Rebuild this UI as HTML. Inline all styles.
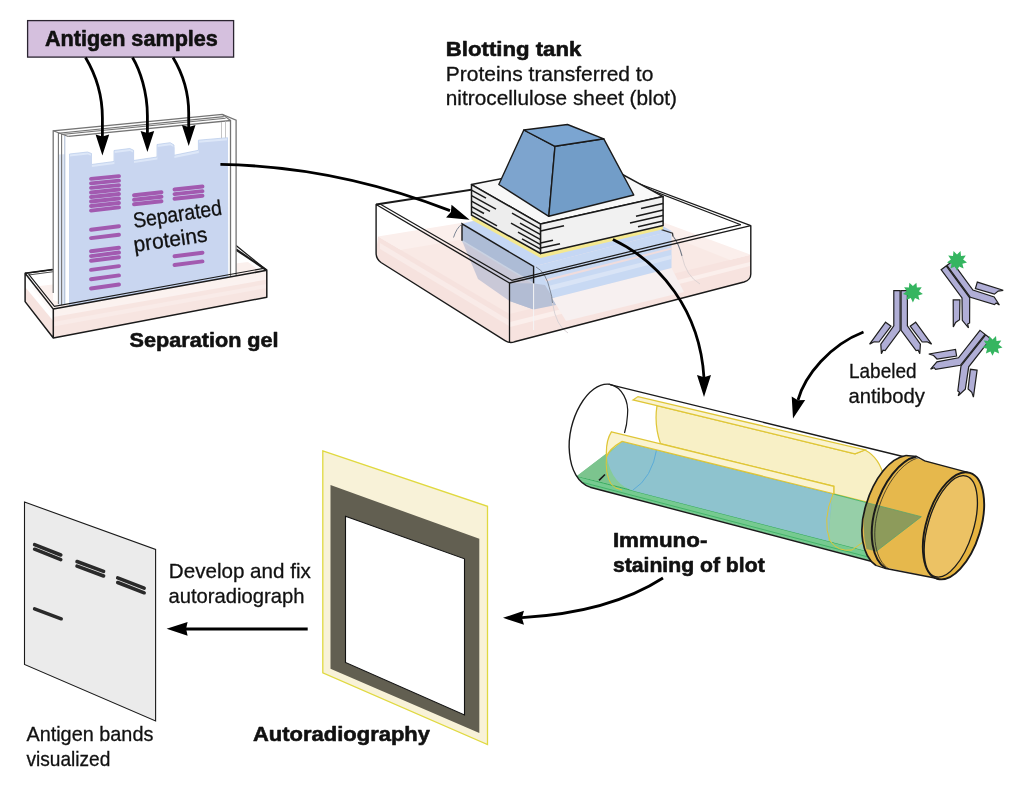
<!DOCTYPE html>
<html lang="en">
<head>
<meta charset="utf-8">
<title>Western blot</title>
<style>
html,body{margin:0;padding:0;background:#fff;}
svg{display:block;will-change:transform;}
text{font-family:"Liberation Sans",sans-serif;fill:#111;}
</style>
</head>
<body>
<svg width="1024" height="796" viewBox="0 0 1024 796">
<rect width="1024" height="796" fill="#ffffff"/>
<rect x="27.6" y="20.6" width="206" height="36.5" fill="#d5c0de" stroke="#2a2430" stroke-width="1.3"/>
<text x="44.9" y="45.7" font-size="22" font-weight="bold" stroke="#111" stroke-width="0.6" stroke-linejoin="round" textLength="173" lengthAdjust="spacingAndGlyphs">Antigen samples</text>
<polygon points="25.1,273.3 53.3,309.1 266.8,270.3 236,249.5 60,268.5" fill="#ffffff"/>
<polygon points="31,287 53.3,315 266.8,276 248,262" fill="#fbf0ed"/>
<path d="M25.1,273.3 L236,245.5 L266.8,270.3" fill="none" stroke="#1a1a1a" stroke-width="1.2"/>
<path d="M28.5,275 L235,247.7" fill="none" stroke="#1a1a1a" stroke-width="0.8"/>
<path d="M236,249.5 L266.8,270.3" fill="none" stroke="#1a1a1a" stroke-width="2.2"/>
<polygon points="53.2,300 53.2,130.8 222.3,114.4 236.1,120.1 236.1,276 69.7,306" fill="#ffffff"/>
<polygon points="58.4,154.5 69.5,154 69.5,305 58.4,305" fill="#dfe7f5"/>
<polygon points="64.8,137 69.5,137 69.5,305 64.8,305" fill="#ffffff"/>
<polygon points="69.5,306.2 69.5,154.0 87.5,152.0 91.5,153.5 91.5,164.5 114.0,161.5 114.0,150.5 129.8,148.5 133.6,150.3 133.6,160.5 157.0,157.0 157.0,144.5 170.2,142.7 174.0,145.0 174.0,155.3 198.4,150.3 198.4,140.2 227.5,137.7 227.8,277.4" fill="#dde7f8" stroke="#b5c9ea" stroke-width="0.7"/>
<polygon points="69.5,306.2 69.5,156.6 87.9,154.6 91.9,156.1 91.9,167.1 114.4,164.1 114.4,153.1 130.2,151.1 134.0,152.9 134.0,163.1 157.4,159.6 157.4,147.1 170.6,145.3 174.4,147.6 174.4,157.9 198.8,152.9 198.8,142.8 227.8,140.3 227.8,277.4" fill="#c9d6f0"/>
<path d="M53.2,293 V130.8 L222.3,114.4 L236.1,120.1 V276" fill="none" stroke="#747474" stroke-width="1.3"/>
<path d="M58.4,304 V133.2 L223.8,116.6" fill="none" stroke="#747474" stroke-width="1.1"/>
<path d="M61.6,305 V134.4 L225.6,118.2" fill="none" stroke="#747474" stroke-width="1.1"/>
<path d="M64.8,305 V135.4" fill="none" stroke="#9fb0cc" stroke-width="0.9"/>
<path d="M68.3,136.4 L230.5,120.5 V277" fill="none" stroke="#747474" stroke-width="1.3"/>
<path d="M53.2,130.8 L68.3,136.4 M222.3,114.4 L230.5,120.5" fill="none" stroke="#747474" stroke-width="1.1"/>
<path d="M221.5,122 V138.2 M225.5,121.5 V137.8" fill="none" stroke="#c4c4c4" stroke-width="1"/>
<path d="M85.5,57.5 C93,70 102.4,92 102.4,118 V138.5" fill="none" stroke="#000" stroke-width="2.8"/>
<polygon points="102.4,155.5 95.6,134.5 102.4,136.6 109.2,134.5" fill="#000"/>
<path d="M132.5,57.5 C140,70 147.4,92 147.4,116 V135" fill="none" stroke="#000" stroke-width="2.8"/>
<polygon points="147.4,152.0 140.6,131.0 147.4,133.1 154.2,131.0" fill="#000"/>
<path d="M173,57.5 C180.5,70 188.7,90 188.7,113 V129" fill="none" stroke="#000" stroke-width="2.8"/>
<polygon points="188.7,146.0 181.9,125.0 188.7,127.1 195.5,125.0" fill="#000"/>
<line x1="91.0" y1="178.9" x2="119.0" y2="176.1" stroke="#a25ab0" stroke-width="3.9" stroke-linecap="round"/>
<line x1="91.0" y1="183.4" x2="119.0" y2="180.6" stroke="#a25ab0" stroke-width="3.9" stroke-linecap="round"/>
<line x1="91.0" y1="187.9" x2="119.0" y2="185.1" stroke="#a25ab0" stroke-width="3.9" stroke-linecap="round"/>
<line x1="91.0" y1="192.5" x2="119.0" y2="189.5" stroke="#a25ab0" stroke-width="3.9" stroke-linecap="round"/>
<line x1="91.0" y1="197.0" x2="119.0" y2="194.0" stroke="#a25ab0" stroke-width="3.9" stroke-linecap="round"/>
<line x1="91.0" y1="201.5" x2="119.0" y2="198.5" stroke="#a25ab0" stroke-width="3.9" stroke-linecap="round"/>
<line x1="91.0" y1="206.0" x2="119.0" y2="203.0" stroke="#a25ab0" stroke-width="3.9" stroke-linecap="round"/>
<line x1="91.0" y1="210.6" x2="119.0" y2="207.4" stroke="#a25ab0" stroke-width="3.9" stroke-linecap="round"/>
<line x1="91.0" y1="229.7" x2="119.0" y2="226.3" stroke="#a25ab0" stroke-width="3.9" stroke-linecap="round"/>
<line x1="91.0" y1="238.1" x2="119.0" y2="234.7" stroke="#a25ab0" stroke-width="3.9" stroke-linecap="round"/>
<line x1="91.0" y1="251.3" x2="119.0" y2="247.7" stroke="#a25ab0" stroke-width="3.9" stroke-linecap="round"/>
<line x1="91.0" y1="256.1" x2="119.0" y2="252.5" stroke="#a25ab0" stroke-width="3.9" stroke-linecap="round"/>
<line x1="91.0" y1="260.8" x2="119.0" y2="257.2" stroke="#a25ab0" stroke-width="3.9" stroke-linecap="round"/>
<line x1="91.0" y1="269.9" x2="119.0" y2="266.1" stroke="#a25ab0" stroke-width="3.9" stroke-linecap="round"/>
<line x1="91.0" y1="279.2" x2="119.0" y2="275.4" stroke="#a25ab0" stroke-width="3.9" stroke-linecap="round"/>
<line x1="91.0" y1="288.5" x2="119.0" y2="284.5" stroke="#a25ab0" stroke-width="3.9" stroke-linecap="round"/>
<line x1="134.0" y1="195.3" x2="161.5" y2="192.3" stroke="#a25ab0" stroke-width="3.9" stroke-linecap="round"/>
<line x1="134.0" y1="199.8" x2="161.5" y2="196.8" stroke="#a25ab0" stroke-width="3.9" stroke-linecap="round"/>
<line x1="134.0" y1="204.3" x2="161.5" y2="201.3" stroke="#a25ab0" stroke-width="3.9" stroke-linecap="round"/>
<line x1="174.5" y1="189.5" x2="202.5" y2="186.5" stroke="#a25ab0" stroke-width="3.9" stroke-linecap="round"/>
<line x1="174.5" y1="194.1" x2="202.5" y2="191.1" stroke="#a25ab0" stroke-width="3.9" stroke-linecap="round"/>
<line x1="174.5" y1="198.8" x2="202.5" y2="195.8" stroke="#a25ab0" stroke-width="3.9" stroke-linecap="round"/>
<line x1="174.5" y1="256.3" x2="202.5" y2="252.7" stroke="#a25ab0" stroke-width="3.9" stroke-linecap="round"/>
<line x1="174.5" y1="265.0" x2="202.5" y2="261.4" stroke="#a25ab0" stroke-width="3.9" stroke-linecap="round"/>
<g transform="translate(134.2,228) rotate(-8.6)"><text x="0" y="0" font-size="21.5" stroke="#111" stroke-width="0.3" textLength="89.5" lengthAdjust="spacingAndGlyphs">Separated</text></g>
<g transform="translate(134.5,252) rotate(-8.2)"><text x="0" y="0" font-size="21.5" stroke="#111" stroke-width="0.3" textLength="74.5" lengthAdjust="spacingAndGlyphs">proteins</text></g>
<polygon points="53.3,309.1 266.8,270.3 266.8,297.3 53.3,338" fill="#fbf1ef" fill-opacity="0.95"/>
<polygon points="53.3,317 266.8,279.5 266.8,297.3 53.3,338" fill="#f7e5e1"/>
<polygon points="53.3,322 266.8,284 266.8,288 53.3,326.5" fill="#f9ebe8"/>
<polygon points="25.1,273.3 53.3,309.1 53.3,338 25.1,301.6" fill="#ffffff" fill-opacity="0.6"/>
<polygon points="25.1,287 53.3,321 53.3,338 25.1,301.6" fill="#f6e3df"/>
<path d="M25.1,273.3 L53.3,309.1 L266.8,270.3 V297.3 L53.3,338 L25.1,301.6 Z M53.3,309.1 V338" fill="none" stroke="#1a1a1a" stroke-width="1.5" stroke-linejoin="round"/>
<path d="M28.6,274.2 L54.4,306.4 L263.5,268.4" fill="none" stroke="#1a1a1a" stroke-width="1.1"/>
<path d="M25.1,273.3 L52.5,269.5" fill="none" stroke="#1a1a1a" stroke-width="1.6"/>
<text x="129.6" y="347" font-size="21" font-weight="bold" stroke="#111" stroke-width="0.6" stroke-linejoin="round" textLength="149" lengthAdjust="spacingAndGlyphs">Separation gel</text>
<text x="445.8" y="55.8" font-size="21" font-weight="bold" stroke="#111" stroke-width="0.6" stroke-linejoin="round" textLength="135.5" lengthAdjust="spacingAndGlyphs">Blotting tank</text>
<text x="445.8" y="80.7" font-size="21" stroke="#111" stroke-width="0.3" textLength="207.5" lengthAdjust="spacingAndGlyphs">Proteins transferred to</text>
<text x="445.8" y="105" font-size="21" stroke="#111" stroke-width="0.3" textLength="231.2" lengthAdjust="spacingAndGlyphs">nitrocellulose sheet (blot)</text>
<text x="849" y="377.6" font-size="21" stroke="#111" stroke-width="0.3" textLength="67.5" lengthAdjust="spacingAndGlyphs">Labeled</text>
<text x="848.5" y="402.8" font-size="21" stroke="#111" stroke-width="0.3" textLength="76.5" lengthAdjust="spacingAndGlyphs">antibody</text>
<text x="612.9" y="546.7" font-size="21" font-weight="bold" stroke="#111" stroke-width="0.6" stroke-linejoin="round" textLength="94.5" lengthAdjust="spacingAndGlyphs">Immuno-</text>
<text x="612.9" y="571.8" font-size="21" font-weight="bold" stroke="#111" stroke-width="0.6" stroke-linejoin="round" textLength="151.8" lengthAdjust="spacingAndGlyphs">staining of blot</text>
<text x="253" y="740.5" font-size="21" font-weight="bold" stroke="#111" stroke-width="0.6" stroke-linejoin="round" textLength="177" lengthAdjust="spacingAndGlyphs">Autoradiography</text>
<text x="168.8" y="577.8" font-size="21" stroke="#111" stroke-width="0.3" textLength="142" lengthAdjust="spacingAndGlyphs">Develop and fix</text>
<text x="168.4" y="603" font-size="21" stroke="#111" stroke-width="0.3" textLength="136" lengthAdjust="spacingAndGlyphs">autoradiograph</text>
<text x="26.4" y="741.3" font-size="21" stroke="#111" stroke-width="0.3" textLength="127" lengthAdjust="spacingAndGlyphs">Antigen bands</text>
<text x="26.4" y="765.8" font-size="21" stroke="#111" stroke-width="0.3" textLength="84" lengthAdjust="spacingAndGlyphs">visualized</text>
<polygon points="24.5,502 155.6,549.5 155.6,721 24.5,664.4" fill="#ebebeb" stroke="#1a1a1a" stroke-width="1.1"/>
<line x1="34.6" y1="544.6" x2="60.8" y2="555" stroke="#2a2a2a" stroke-width="3.5" stroke-linecap="round"/>
<line x1="34.6" y1="549.2" x2="60.8" y2="559.6" stroke="#2a2a2a" stroke-width="3.5" stroke-linecap="round"/>
<line x1="77" y1="561.5" x2="103.6" y2="571.4" stroke="#2a2a2a" stroke-width="3.5" stroke-linecap="round"/>
<line x1="77" y1="566.1" x2="103.6" y2="576.0" stroke="#2a2a2a" stroke-width="3.5" stroke-linecap="round"/>
<line x1="117.7" y1="577.9" x2="144.2" y2="588.2" stroke="#2a2a2a" stroke-width="3.5" stroke-linecap="round"/>
<line x1="117.7" y1="582.5" x2="144.2" y2="592.8000000000001" stroke="#2a2a2a" stroke-width="3.5" stroke-linecap="round"/>
<line x1="34.6" y1="608.9" x2="61.2" y2="618.8" stroke="#2a2a2a" stroke-width="3.5" stroke-linecap="round"/>
<line x1="307.7" y1="629" x2="183" y2="629" stroke="#000" stroke-width="2.8"/>
<polygon points="166.6,628.8 187.6,621.9 186.1,628.8 187.6,635.7" fill="#000"/>
<polygon points="322.8,450.8 487.5,506.3 487.5,744.5 322.8,672.8" fill="#f8f2d8" stroke="#e0d940" stroke-width="1.3"/>
<polygon points="330.5,485 479.3,538.8 479.3,733 330.5,668.8" fill="#625f51"/>
<polygon points="345.5,516.3 464.5,558.8 464.5,715 345.5,662.5" fill="#ffffff" stroke="#111" stroke-width="1.1"/>
<path d="M663,578 C632,598 585,614 522,617.6" fill="none" stroke="#000" stroke-width="2.7"/>
<polygon points="503.0,617.8 524.0,610.8 521.9,617.8 524.0,624.8" fill="#000"/>
<polygon points="376.1,204.5 509.5,283.0 750.8,225.6 601.0,169.5" fill="#ffffff"/>
<polygon points="378.0,236.4 509.5,314.0 750.8,254.7 603.0,200.0" fill="#fbefec"/>
<polygon points="400.0,250.0 515.0,318.0 735.0,262.0 615.0,214.0" fill="#f9e9e5"/>
<path d="M378,236.4 L509.5,314 L509.5,343.0 L381,262.5 Q376.1,259 376.1,253 Z" fill="#f6e2de"/>
<path d="M509.5,314 L750.8,254.7 L750.8,274 Q750.8,280 744,282 L509.5,343.0 Z" fill="#f7e3df"/>
<polygon points="380.0,243.0 509.0,320.0 509.0,326.0 380.0,249.0" fill="#f9ebe8"/>
<polygon points="510.0,322.0 750.0,262.0 750.0,266.0 510.0,327.0" fill="#fbefec"/>
<path d="M376.1,204.5 L601,169.5" fill="none" stroke="#1a1a1a" stroke-width="2"/>
<path d="M601,169.5 L750.8,225.6" fill="none" stroke="#1a1a1a" stroke-width="1.3"/>
<path d="M600,170.4 L740.8,224.7" fill="none" stroke="#1a1a1a" stroke-width="1.2"/>
<polygon points="462.0,240.8 533.6,283.5 533.6,309.5 509.5,301.0 478.0,279.0" fill="#c9c8d7"/>
<polygon points="509.5,283.0 533.6,283.5 533.6,309.5 509.5,301.0" fill="#b2bcd3"/>
<polygon points="533.6,283.5 552.0,279.5 556.0,305.0 533.6,309.5" fill="#b8c1d6"/>
<polygon points="552.0,298.0 671.5,268.0 684.0,292.0 566.0,321.0" fill="#f7f0f0"/>
<polygon points="462.0,223.8 533.6,266.5 533.6,283.5 462.0,240.8" fill="#adbcd6"/>
<polygon points="462.0,240.0 533.6,282.7 533.6,284.5 462.0,241.8" fill="#c9d2e2"/>
<polygon points="533.6,266.5 671.5,231.0 671.5,268.0 553.0,298.0 545.0,285.0 533.6,283.5" fill="#c8d9f3"/>
<polygon points="545.0,279.5 671.5,247.5 671.5,249.5 546.0,281.5" fill="#f0dcdc"/>
<polygon points="548.0,286.0 671.5,255.0 671.5,259.0 550.0,290.5" fill="#d9e4f6"/>
<polygon points="462.0,223.8 533.6,266.5 671.5,231.0 600.0,190.0" fill="#c5d7f4"/>
<path d="M462,240.8 V223.8 L533.6,266.5 V283.5" fill="none" stroke="#1a1a1a" stroke-width="1.4"/>
<path d="M533.6,283.5 V330" fill="none" stroke="#f4f4f6" stroke-width="1"/>
<path d="M661.5,229.6 L672.5,233.2 L673,236.5" fill="none" stroke="#333" stroke-width="1.3"/>
<path d="M453.5,237.5 Q456.5,228 462,224" fill="none" stroke="#7d8694" stroke-width="1"/>
<path d="M536,267 Q546,272 550,290 Q552,296 552.5,303" fill="none" stroke="#7d8694" stroke-width="1"/>
<path d="M552.5,303 Q556,326 568,333" fill="none" stroke="#d9d3d6" stroke-width="1"/>
<path d="M673,236 Q679,244 682,256" fill="none" stroke="#6f7683" stroke-width="1.1"/>
<path d="M682,256 Q686,276 700,284" fill="none" stroke="#ddd3d3" stroke-width="1"/>
<polygon points="471.5,215.2 540.6,253.3 663.1,225.6 663.1,229.2 540.6,257.9 471.5,219.8" fill="#f4e88f"/>
<polygon points="471.5,184.6 540.6,224.1 663.1,196.6 596.0,160.0" fill="#f8f8f8" stroke="#1a1a1a" stroke-width="1.5" stroke-linejoin="round"/>
<polygon points="471.5,184.6 540.6,224.1 540.6,253.5 471.5,215.2" fill="#ededed" stroke="#1a1a1a" stroke-width="1.5" stroke-linejoin="round"/>
<polygon points="540.6,224.1 663.1,196.6 663.1,225.6 540.6,253.5" fill="#f1f1f1" stroke="#1a1a1a" stroke-width="1.5" stroke-linejoin="round"/>
<line x1="471.5" y1="190.1" x2="486.0" y2="198.1" stroke="#1a1a1a" stroke-width="1.5"/>
<line x1="471.5" y1="195.6" x2="496.0" y2="209.2" stroke="#1a1a1a" stroke-width="1.5"/>
<line x1="471.5" y1="201.1" x2="490.0" y2="211.4" stroke="#1a1a1a" stroke-width="1.5"/>
<line x1="471.5" y1="206.6" x2="484.0" y2="213.5" stroke="#1a1a1a" stroke-width="1.5"/>
<line x1="471.5" y1="211.6" x2="497.0" y2="225.8" stroke="#1a1a1a" stroke-width="1.5"/>
<line x1="512.0" y1="213.2" x2="540.6" y2="229.1" stroke="#1a1a1a" stroke-width="1.5"/>
<line x1="520.0" y1="223.2" x2="540.6" y2="234.6" stroke="#1a1a1a" stroke-width="1.5"/>
<line x1="511.0" y1="223.2" x2="540.6" y2="239.6" stroke="#1a1a1a" stroke-width="1.5"/>
<line x1="518.0" y1="232.1" x2="540.6" y2="244.6" stroke="#1a1a1a" stroke-width="1.5"/>
<line x1="522.0" y1="238.8" x2="540.6" y2="249.1" stroke="#1a1a1a" stroke-width="1.5"/>
<line x1="540.6" y1="231.1" x2="564.0" y2="225.8" stroke="#1a1a1a" stroke-width="1.5"/>
<line x1="540.6" y1="243.1" x2="553.0" y2="240.3" stroke="#1a1a1a" stroke-width="1.5"/>
<line x1="540.6" y1="248.1" x2="560.0" y2="243.7" stroke="#1a1a1a" stroke-width="1.5"/>
<line x1="641.0" y1="208.6" x2="663.1" y2="203.6" stroke="#1a1a1a" stroke-width="1.5"/>
<line x1="636.0" y1="216.2" x2="663.1" y2="210.1" stroke="#1a1a1a" stroke-width="1.5"/>
<line x1="630.0" y1="223.0" x2="663.1" y2="215.6" stroke="#1a1a1a" stroke-width="1.5"/>
<line x1="638.0" y1="226.7" x2="663.1" y2="221.1" stroke="#1a1a1a" stroke-width="1.5"/>
<polygon points="523.8,130.0 555.0,146.3 548.8,216.3 498.8,184.5" fill="#7da4ce" stroke="#1a1a1a" stroke-width="1.4" stroke-linejoin="round"/>
<polygon points="555.0,146.3 603.8,138.8 633.8,195.0 548.8,216.3" fill="#729dc8" stroke="#1a1a1a" stroke-width="1.4" stroke-linejoin="round"/>
<polygon points="523.8,130.0 567.5,124.5 603.8,138.8 555.0,146.3" fill="#7ba5d1" stroke="#1a1a1a" stroke-width="1.4" stroke-linejoin="round"/>
<path d="M376.1,204.5 L509.5,283 L750.8,225.6 V274 Q750.8,280 744,282 L514.5,341.8 Q509.5,343.6 505,340.6 L381,262.5 Q376.1,259 376.1,253 Z" fill="none" stroke="#1a1a1a" stroke-width="1.4" stroke-linejoin="round"/>
<path d="M509.5,283 L509.5,342.0" fill="none" stroke="#1a1a1a" stroke-width="1.3"/>
<path d="M380.5,204.2 L511.8,280.3 L740.8,224.7" fill="none" stroke="#1a1a1a" stroke-width="1.2" stroke-linejoin="round"/>
<path d="M610,384.6 L905,457 L872,561.5 L587,485.2 Z" fill="#ffffff"/>
<ellipse cx="598.3" cy="433.8" rx="28.3" ry="52" transform="rotate(13 598.3 433.8)" fill="#ffffff"/>
<path d="M657,405.7 L855,453.8 L865,450 Q880,458 884,478 Q885,492 882,505.8 L833.8,493.8 L833.8,486.3 L660.5,443.7 Q654,425 657,405.7 Z" fill="#f8f0c6" stroke="#dfc637" stroke-width="1.25"/>
<path d="M633,399.9 L638,396.6 L865,450 L855,453.8 L657,405.7 Z" fill="#faf3d0" stroke="#dfc637" stroke-width="1.25"/>
<path d="M576.6,476.2 L622.2,441.4 L921.3,516.7 L874,553 L636,491.5 Z" fill="#86cb9a"/>
<path d="M576.6,476.2 L636,491.5 L874,553 L870,560.5 L590,487.2 Q581,483 576.6,476.2 Z" fill="#76ca90"/>
<path d="M576.6,476.2 L636,491.5 L874,553" fill="none" stroke="#35aa5c" stroke-width="1"/>
<path d="M583,482.5 L872,558" fill="none" stroke="#3db265" stroke-width="0.9"/>
<path d="M576.6,476.2 L606.8,453.2 Q606,470 611,484 Z" fill="#7cc48e"/>
<path d="M622.2,441.4 L832.5,493.8 L828,541 L636,491.5 Q612,486 606.5,456 Z" fill="#8ec3ce"/>
<path d="M622.2,441.4 L832.5,493.8" fill="none" stroke="#56a8d8" stroke-width="0.9"/>
<path d="M657,448 Q652,478 633,490" fill="none" stroke="#56a8d8" stroke-width="0.9"/>
<path d="M832.5,493.8 L921.3,516.7 L874,553 L828,541 Z" fill="#96cfa8"/>
<path d="M832.5,493.8 L921.3,516.7 L874,553" fill="none" stroke="#45b26a" stroke-width="0.9"/>
<path d="M833,494 Q822,520 830,541 Q838,552 852,550 Q874,538 882,505.8" fill="none" stroke="#dfc637" stroke-width="1"/>
<path d="M611.4,431.8 L833.8,486.3 L833.8,493.8 L622.2,441.4 Q609,449 606.5,457 Q605.5,441 611.4,431.8 Z" fill="#faf3d0" stroke="#dfc637" stroke-width="1.25"/>
<path d="M606.5,456 Q605,474 611,484 Q615,489 622,490" fill="none" stroke="#dfc637" stroke-width="1"/>
<path d="M610,384.6 L905,457 M872,561.5 L590,487.2" fill="none" stroke="#1a1a1a" stroke-width="1.4"/>
<path d="M610,384.3 C588,381 566,420 569.5,453 C571,470 578,483 590,487.2" fill="none" stroke="#1a1a1a" stroke-width="1.4"/>
<path d="M610,384.3 C622,387 629,401 627.5,415 Q627,425 624.5,433" fill="none" stroke="#1a1a1a" stroke-width="1.2"/>
<path d="M605,474.5 L599,480.4" fill="none" stroke="#1a1a1a" stroke-width="1.6"/>
<path d="M906,455.5 L967.8,472.4 L940,579 L876,565.5 C862,556 858,530 866,505 C874,478 890,458 906,455.5 Z" fill="#e6b84c"/>
<path d="M866,502.5 L921.3,516.7 L876,551.5 L866.5,549 Q861,528 866,502.5 Z" fill="#8d9b5b"/>
<path d="M866,502.5 L921.3,516.7 L876,551.5" fill="none" stroke="#5da36a" stroke-width="0.8"/>
<path d="M906,455.5 C890,458 874,478 866,505 C858,530 862,556 876,565.5" fill="none" stroke="#1a1a1a" stroke-width="1.7"/>
<path d="M916.5,456.5 C900,460 883,482 875.5,508 C868,534 872,560 886,568.5" fill="none" stroke="#1a1a1a" stroke-width="2"/>
<path d="M919.5,457.6 C903,461 886,483 878.5,509 C871,535 875,560.5 889,569" fill="none" stroke="#1a1a1a" stroke-width="0.7"/>
<path d="M906,455.5 L916.5,456.5 L924.7,460.8 L967.8,472.4 M876,565.5 L886,568.5 L940,579" fill="none" stroke="#1a1a1a" stroke-width="1.3"/>
<ellipse cx="953.5" cy="525.8" rx="27.1" ry="55.4" transform="rotate(17.2 953.5 525.8)" fill="#e6b440" stroke="#1a1a1a" stroke-width="1.9"/>
<ellipse cx="950.8" cy="526.4" rx="22.6" ry="52.6" transform="rotate(17.2 950.8 526.4)" fill="#ecc264" stroke="#1a1a1a" stroke-width="1.3"/>
<g fill="#b0aed6" stroke="#1e1e1e" stroke-width="1.2" stroke-linejoin="miter"><polygon points="893.8,290.7 900.1,290.7 900.1,330.3 885.1,350.5 883.0,350.2 881.4,353.7 880.8,344.1 893.8,325.9"/><polygon points="885.6,322.2 891.0,326.2 879.0,342.0 874.1,341.8 869.6,344.1"/><polygon points="907.4,290.7 901.1,290.7 901.1,330.3 916.1,350.5 918.2,350.2 919.8,353.7 920.4,344.1 907.4,325.9"/><polygon points="915.6,322.2 910.2,326.2 922.2,342.0 927.1,341.8 931.6,344.1"/></g><polygon points="922.9,294.1 918.3,295.4 919.5,300.1 915.0,298.1 912.9,302.5 910.8,298.1 906.3,300.1 907.5,295.4 902.9,294.1 906.8,291.2 904.1,287.2 908.9,287.6 909.4,282.7 912.9,286.1 916.4,282.7 916.9,287.6 921.7,287.2 919.0,291.2" fill="#35b560"/>
<g fill="#b0aed6" stroke="#1e1e1e" stroke-width="1.2" stroke-linejoin="miter"><polygon points="941.1,269.7 946.2,265.9 969.7,297.8 969.6,323.0 967.7,324.0 968.5,327.8 962.3,320.4 962.0,298.0"/><polygon points="953.2,299.9 959.9,299.9 959.6,319.8 955.6,322.5 953.3,327.0"/><polygon points="952.1,261.6 946.9,265.4 970.4,297.3 994.5,304.6 996.1,303.1 999.4,305.0 994.2,296.9 972.9,290.0"/><polygon points="977.3,282.1 975.4,288.5 994.4,294.1 998.2,291.1 1003.2,290.3"/></g><polygon points="967.0,262.4 962.4,263.7 963.6,268.4 959.1,266.4 957.0,270.8 954.9,266.4 950.4,268.4 951.6,263.7 947.0,262.4 950.9,259.5 948.2,255.5 953.0,255.9 953.5,251.0 957.0,254.4 960.5,251.0 961.0,255.9 965.8,255.5 963.1,259.5" fill="#35b560"/>
<g fill="#b0aed6" stroke="#1e1e1e" stroke-width="1.2" stroke-linejoin="miter"><polygon points="980.0,330.4 985.0,334.3 960.4,365.3 935.5,369.4 934.2,367.7 930.6,369.1 936.9,361.8 958.5,357.8"/><polygon points="955.5,349.4 956.6,356.0 937.0,359.0 933.6,355.5 928.8,354.0"/><polygon points="990.6,338.8 985.7,334.9 961.0,365.9 957.8,390.9 959.5,392.2 958.2,395.8 965.3,389.3 968.7,366.8"/><polygon points="977.1,370.2 970.4,369.3 968.1,389.0 971.8,392.3 973.4,397.1"/></g><polygon points="1002.5,347.4 997.9,348.7 999.1,353.4 994.6,351.4 992.5,355.8 990.4,351.4 985.9,353.4 987.1,348.7 982.5,347.4 986.4,344.5 983.7,340.5 988.5,340.9 989.0,336.0 992.5,339.4 996.0,336.0 996.5,340.9 1001.3,340.5 998.6,344.5" fill="#35b560"/>
<path d="M220.4,164.4 C290,165.5 370,179.5 450,210.6" fill="none" stroke="#000" stroke-width="2.8"/>
<polygon points="469.6,219.8 446.1,217.6 450.9,212.0 451.5,204.7" fill="#000"/>
<path d="M612.9,239.5 C660,262 700,310 704,378" fill="none" stroke="#000" stroke-width="2.8"/>
<polygon points="704.0,397.0 697.0,375.0 704.0,377.2 711.0,375.0" fill="#000"/>
<path d="M863.5,332 C830,345 805,375 798,400" fill="none" stroke="#000" stroke-width="2.8"/>
<polygon points="793.0,418.5 791.7,396.4 797.9,400.2 805.2,400.0" fill="#000"/>
</svg>
</body>
</html>
